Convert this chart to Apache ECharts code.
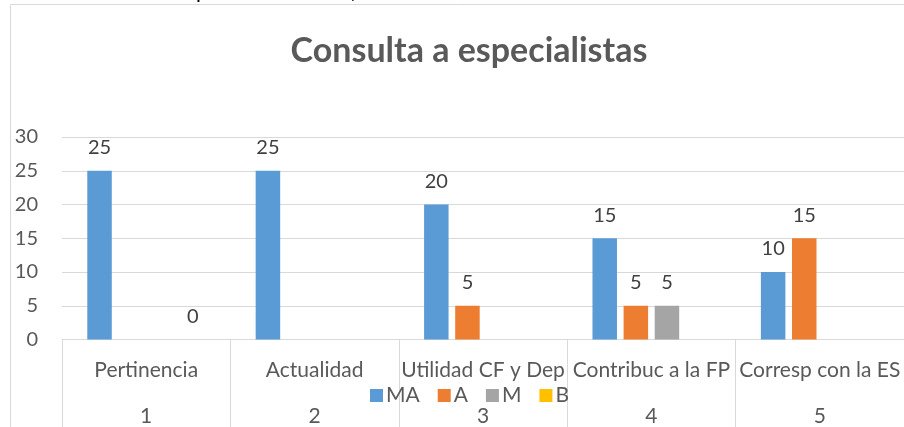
<!DOCTYPE html>
<html><head><meta charset="utf-8">
<script src="https://cdn.jsdelivr.net/npm/echarts@6/dist/echarts.min.js"></script>
<style>html,body{margin:0;padding:0;background:#fff}#c{width:904px;height:427px}</style>
</head><body><div id="c"></div>
<script>
const title = 'Consulta a especialistas';
const categories = ['Pertinencia', 'Actualidad', 'Utilidad CF y Dep', 'Contribuc a la FP', 'Corresp con la ES'];
const categoryNumbers = ['1', '2', '3', '4', '5'];
const seriesNames = ['MA', 'A', 'M', 'B'];
const valuesMA = [25, 25, 20, 15, 10];
const valuesA = [null, null, 5, 5, 15];
const valuesM = [null, null, null, 5, null];
const valuesB = [0, null, null, null, null];
const yTicks = [0, 5, 10, 15, 20, 25, 30];
const colors = ['#5B9BD5', '#ED7D31', '#A5A5A5', '#FFC000'];

const FONT = 'Lato';
const seriesData = [valuesMA, valuesA, valuesM, valuesB];
const chart = echarts.init(document.getElementById('c'), null, {renderer: 'canvas'});
chart.setOption({
  animation: false,
  textStyle: {fontFamily: FONT},
  title: {
    text: title, left: 464, top: 29, textAlign: 'center',
    textStyle: {fontSize: 34, fontWeight: 'bold', color: '#595959', fontFamily: FONT}
  },
  graphic: [
    {type: 'rect', shape: {x: 10.5, y: 4.5, width: 1000, height: 600}, style: {fill: 'none', stroke: '#D9D9D9', lineWidth: 1}, silent: true},
    {type: 'text', x: 196, y: 2, style: {text: 'p', font: '22px "Liberation Sans"', fill: '#000', textVerticalAlign: 'bottom'}, silent: true},
    {type: 'text', x: 350, y: 3, style: {text: ',', font: '22px "Liberation Sans"', fill: '#000', textVerticalAlign: 'bottom'}, silent: true}
  ],
  legend: {
    left: 365, top: 380, itemWidth: 13, itemHeight: 13, itemGap: 18, icon: 'rect',
    data: seriesNames,
    textStyle: {fontSize: 21, color: '#595959', fontFamily: FONT, padding: [0, 0, 0, -2]}
  },
  grid: {left: 62, right: -1, top: 137, bottom: 87, containLabel: false},
  xAxis: [{
    type: 'category', data: categories,
    axisLine: {lineStyle: {color: '#D9D9D9'}},
    axisTick: {show: true, length: 90, interval: 0, lineStyle: {color: '#D9D9D9'}},
    axisLabel: {interval: 0, margin: 19, fontSize: 21, color: '#595959', fontFamily: FONT,
      formatter: function (v, i) { return v + '\n{n|' + categoryNumbers[i] + '}'; },
      lineHeight: 24,
      rich: {n: {fontSize: 21, color: '#595959', fontFamily: FONT, lineHeight: 24, padding: [44, 0, 0, 0]}}
    }
  }],
  yAxis: {
    type: 'value', min: 0, max: 30, interval: 5,
    axisLine: {show: false}, axisTick: {show: false},
    splitLine: {lineStyle: {color: '#D9D9D9', width: 1}},
    axisLabel: {margin: 24, fontSize: 20, color: '#595959', fontFamily: FONT,
      formatter: function (v) { return yTicks.indexOf(v) >= 0 ? String(v) : ''; }}
  },
  series: seriesNames.map(function (n, k) {
    return {
      name: n, type: 'bar', data: seriesData[k], barWidth: 24.5, barGap: '27%',
      itemStyle: {color: colors[k]},
      label: {show: true, position: 'top', distance: 13, fontSize: 20, color: '#404040', fontFamily: FONT,
        formatter: function (p) { return p.value == null ? '' : String(p.value); }}
    };
  })
});
</script></body></html>
